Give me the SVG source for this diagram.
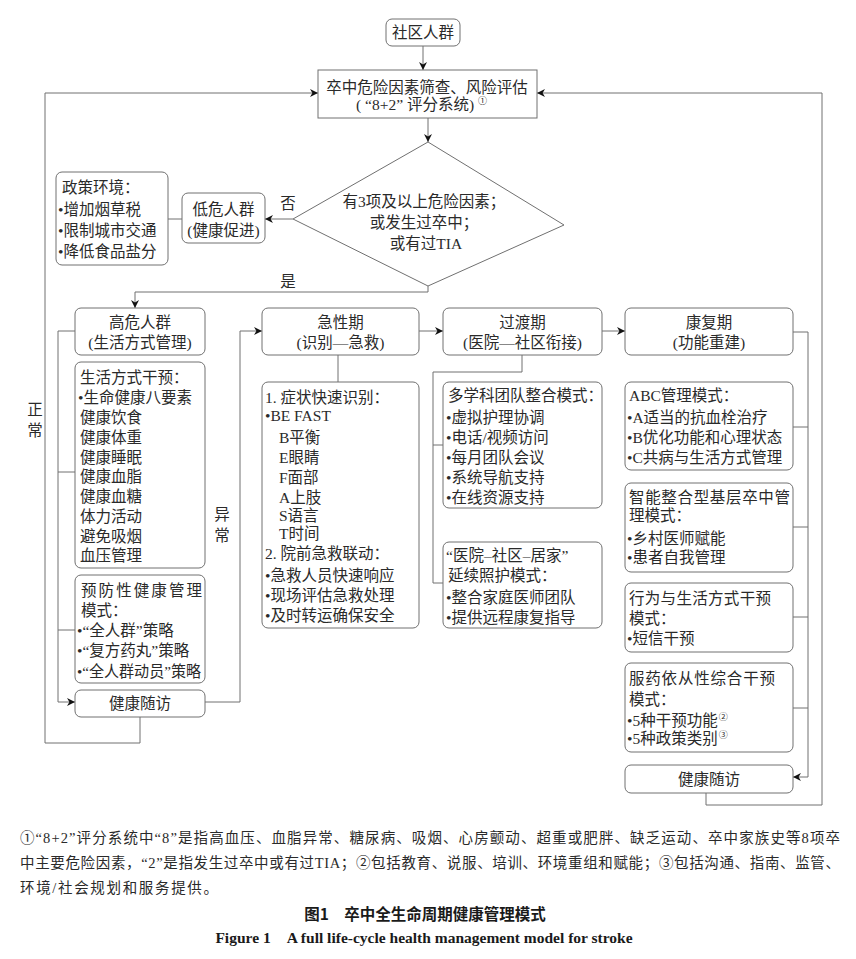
<svg xmlns="http://www.w3.org/2000/svg" width="856" height="959" viewBox="0 0 856 959">
<defs>
<style>
.bg{fill:#fff}
.box{fill:#fff;stroke:#707070;stroke-width:1}
.ln{fill:none;stroke:#707070;stroke-width:1}
.t{font-family:"Liberation Serif","Noto Sans CJK SC",serif;font-size:15.5px;fill:#2a2a2a}
.c{text-anchor:middle}
.sup{font-size:9px}
.fn{font-family:"Liberation Serif","Noto Sans CJK SC",serif;font-size:14.5px;fill:#2a2a2a}
.cap1{font-family:"Noto Sans CJK SC",sans-serif;font-size:15.5px;font-weight:bold;fill:#1a1a1a;text-anchor:middle}
.cap2{font-family:"Liberation Serif",serif;font-size:15.5px;font-weight:bold;fill:#1a1a1a;text-anchor:middle}
</style>
<marker id="ah" viewBox="0 0 10 10" refX="10" refY="5" markerWidth="9" markerHeight="8" orient="auto" markerUnits="userSpaceOnUse">
<path d="M0,0 L10,5 L0,10 L3,5 Z" fill="#111"/>
</marker>
</defs>
<rect class="bg" x="0" y="0" width="856" height="959"/>

<g id="connectors">
<path class="ln" d="M423,46 V70" marker-end="url(#ah)"/>
<path class="ln" d="M428,118 V142" marker-end="url(#ah)"/>
<path class="ln" d="M140,717 V743 H45 V93 H318" marker-end="url(#ah)"/>
<path class="ln" d="M706,793 V805 H822 V93 H537" marker-end="url(#ah)"/>
<path class="ln" d="M293,219 H265" marker-end="url(#ah)"/>
<path class="ln" d="M168,219 H182"/>
<path class="ln" d="M428,286 V292 H135 V308" marker-end="url(#ah)"/>
<path class="ln" d="M75,331 H58 V702 H75" marker-end="url(#ah)"/>
<path class="ln" d="M58,472 H75 M58,630 H75"/>
<path class="ln" d="M205,702 H240 V331 H262" marker-end="url(#ah)"/>
<path class="ln" d="M338,355 V382"/>
<path class="ln" d="M419,331 H443" marker-end="url(#ah)"/>
<path class="ln" d="M602,331 H625" marker-end="url(#ah)"/>
<path class="ln" d="M522,355 V372 H433 V583 H443 M433,445 H443"/>
<path class="ln" d="M793,332 H808 V777 H793" marker-end="url(#ah)"/>
<path class="ln" d="M793,427 H808 M793,527 H808 M793,617 H808 M793,708 H808"/>
<text class="t c" x="288" y="209">否</text>
<text class="t c" x="288" y="287">是</text>
<text class="t c" x="35" y="415">正</text>
<text class="t c" x="35" y="436">常</text>
<text class="t c" x="222" y="520">异</text>
<text class="t c" x="222" y="541">常</text>
</g>

<g id="n-community">
<rect class="box" x="386" y="19" width="74" height="27" rx="6"/>
<text class="t c" x="423" y="38">社区人群</text>
</g>

<g id="n-screen">
<rect class="box" x="318" y="70" width="219" height="48"/>
<text class="t c" x="427" y="92.5">卒中危险因素筛查、风险评估</text>
<text class="t" x="356" y="109.5">( “8+2” 评分系统)</text>
<text class="t sup" x="478" y="104">①</text>
</g>

<g id="n-decision">
<polygon class="box" points="428,142 564,225 428,286 293,219"/>
<text class="t c" x="424" y="207">有3项及以上危险因素；</text>
<text class="t c" x="424" y="228">或发生过卒中；</text>
<text class="t c" x="426" y="249">或有过TIA</text>
</g>

<g id="n-lowrisk">
<rect class="box" x="182" y="193" width="83" height="50" rx="6"/>
<text class="t c" x="223.5" y="215">低危人群</text>
<text class="t c" x="223.5" y="236">(健康促进)</text>
</g>

<g id="n-policy">
<rect class="box" x="56" y="172" width="112" height="93" rx="6"/>
<text class="t" x="62" y="193">政策环境：</text>
<text class="t" x="58" y="215">•增加烟草税</text>
<text class="t" x="58" y="236">•限制城市交通</text>
<text class="t" x="58" y="257">•降低食品盐分</text>
</g>

<g id="n-highrisk">
<rect class="box" x="75" y="308" width="130" height="47" rx="6"/>
<text class="t c" x="140" y="328">高危人群</text>
<text class="t c" x="140" y="348">(生活方式管理)</text>
</g>

<g id="n-lifestyle">
<rect class="box" x="75" y="362" width="130" height="206" rx="6"/>
<text class="t" x="80" y="382.5">生活方式干预：</text>
<text class="t" x="78" y="402.5">•生命健康八要素</text>
<text class="t" x="80" y="422.5">健康饮食</text>
<text class="t" x="80" y="442.5">健康体重</text>
<text class="t" x="80" y="462.5">健康睡眠</text>
<text class="t" x="80" y="482">健康血脂</text>
<text class="t" x="80" y="502">健康血糖</text>
<text class="t" x="80" y="522">体力活动</text>
<text class="t" x="80" y="541.5">避免吸烟</text>
<text class="t" x="80" y="561">血压管理</text>
</g>

<g id="n-prevention">
<rect class="box" x="75" y="575" width="130" height="108" rx="6"/>
<text class="t" x="81" y="595.5" textLength="121" lengthAdjust="spacing">预防性健康管理</text>
<text class="t" x="81" y="615.5">模式：</text>
<text class="t" x="77" y="635.5">•“全人群”策略</text>
<text class="t" x="77" y="656">•“复方药丸”策略</text>
<text class="t" x="77" y="677" textLength="124" lengthAdjust="spacingAndGlyphs">•“全人群动员”策略</text>
</g>

<g id="n-followup-left">
<rect class="box" x="75" y="690" width="130" height="27" rx="6"/>
<text class="t c" x="140" y="709">健康随访</text>
</g>

<g id="n-acute">
<rect class="box" x="262" y="308" width="157" height="47" rx="6"/>
<text class="t c" x="340.5" y="328">急性期</text>
<text class="t c" x="340.5" y="348">(识别—急救)</text>
</g>

<g id="n-acute-detail">
<rect class="box" x="262" y="382" width="157" height="246" rx="6"/>
<text class="t" x="265" y="402.5">1. 症状快速识别：</text>
<text class="t" x="265" y="420.5">•BE FAST</text>
<text class="t" x="279" y="442.5">B平衡</text>
<text class="t" x="279" y="462.5">E眼睛</text>
<text class="t" x="279" y="482.5">F面部</text>
<text class="t" x="279" y="502.5">A上肢</text>
<text class="t" x="279" y="520.5">S语言</text>
<text class="t" x="279" y="538.5">T时间</text>
<text class="t" x="265" y="558.5">2. 院前急救联动：</text>
<text class="t" x="265" y="580.5">•急救人员快速响应</text>
<text class="t" x="265" y="600.5">•现场评估急救处理</text>
<text class="t" x="265" y="620.5">•及时转运确保安全</text>
</g>

<g id="n-transition">
<rect class="box" x="443" y="308" width="159" height="47" rx="6"/>
<text class="t c" x="522.5" y="328">过渡期</text>
<text class="t c" x="522.5" y="348">(医院—社区衔接)</text>
</g>

<g id="n-multiteam">
<rect class="box" x="443" y="382" width="159" height="126" rx="6"/>
<text class="t" x="448" y="400.5">多学科团队整合模式：</text>
<text class="t" x="446" y="422.5">•虚拟护理协调</text>
<text class="t" x="446" y="442.5">•电话/视频访问</text>
<text class="t" x="446" y="462.5">•每月团队会议</text>
<text class="t" x="446" y="482.5">•系统导航支持</text>
<text class="t" x="446" y="502.5">•在线资源支持</text>
</g>

<g id="n-continuity">
<rect class="box" x="443" y="542" width="159" height="86" rx="6"/>
<text class="t" x="446" y="560.5">“医院–社区–居家”</text>
<text class="t" x="448" y="580.5">延续照护模式：</text>
<text class="t" x="446" y="602.5">•整合家庭医师团队</text>
<text class="t" x="446" y="622.5">•提供远程康复指导</text>
</g>

<g id="n-rehab">
<rect class="box" x="625" y="308" width="168" height="47" rx="6"/>
<text class="t c" x="709" y="328">康复期</text>
<text class="t c" x="709" y="348">(功能重建)</text>
</g>

<g id="n-abc">
<rect class="box" x="625" y="382" width="168" height="88" rx="6"/>
<text class="t" x="629" y="400.5">ABC管理模式：</text>
<text class="t" x="627" y="422.5">•A适当的抗血栓治疗</text>
<text class="t" x="627" y="442.5">•B优化功能和心理状态</text>
<text class="t" x="627" y="462.5">•C共病与生活方式管理</text>
</g>

<g id="n-smart">
<rect class="box" x="625" y="483" width="168" height="89" rx="6"/>
<text class="t" x="629" y="502.5" textLength="161" lengthAdjust="spacing">智能整合型基层卒中管</text>
<text class="t" x="629" y="520.5">理模式：</text>
<text class="t" x="627" y="543.5">•乡村医师赋能</text>
<text class="t" x="627" y="562.5">•患者自我管理</text>
</g>

<g id="n-behavior">
<rect class="box" x="625" y="583" width="168" height="69" rx="6"/>
<text class="t" x="629" y="603.5" textLength="142" lengthAdjust="spacing">行为与生活方式干预</text>
<text class="t" x="629" y="623.5">模式：</text>
<text class="t" x="627" y="643.5">•短信干预</text>
</g>

<g id="n-adherence">
<rect class="box" x="625" y="663" width="168" height="89" rx="6"/>
<text class="t" x="629" y="683.5" textLength="146" lengthAdjust="spacing">服药依从性综合干预</text>
<text class="t" x="629" y="705">模式：</text>
<text class="t" x="627" y="725.5">•5种干预功能<tspan class="sup" dx="1" dy="-6">②</tspan></text>
<text class="t" x="627" y="743.5">•5种政策类别<tspan class="sup" dx="1" dy="-6">③</tspan></text>
</g>

<g id="n-followup-right">
<rect class="box" x="625" y="765" width="168" height="28" rx="6"/>
<text class="t c" x="709" y="785">健康随访</text>
</g>

<g id="footnote">
<text class="fn" x="20" y="843" textLength="820" lengthAdjust="spacing">①“8+2”评分系统中“8”是指高血压、血脂异常、糖尿病、吸烟、心房颤动、超重或肥胖、缺乏运动、卒中家族史等8项卒</text>
<text class="fn" x="20" y="868" textLength="820" lengthAdjust="spacing">中主要危险因素，“2”是指发生过卒中或有过TIA；②包括教育、说服、培训、环境重组和赋能；③包括沟通、指南、监管、</text>
<text class="fn" x="20" y="893" textLength="198" lengthAdjust="spacing">环境/社会规划和服务提供。</text>
<text class="cap1" x="425" y="920">图1　卒中全生命周期健康管理模式</text>
<text class="cap2" x="424" y="943">Figure 1　A full life-cycle health management model for stroke</text>
</g>
</svg>
